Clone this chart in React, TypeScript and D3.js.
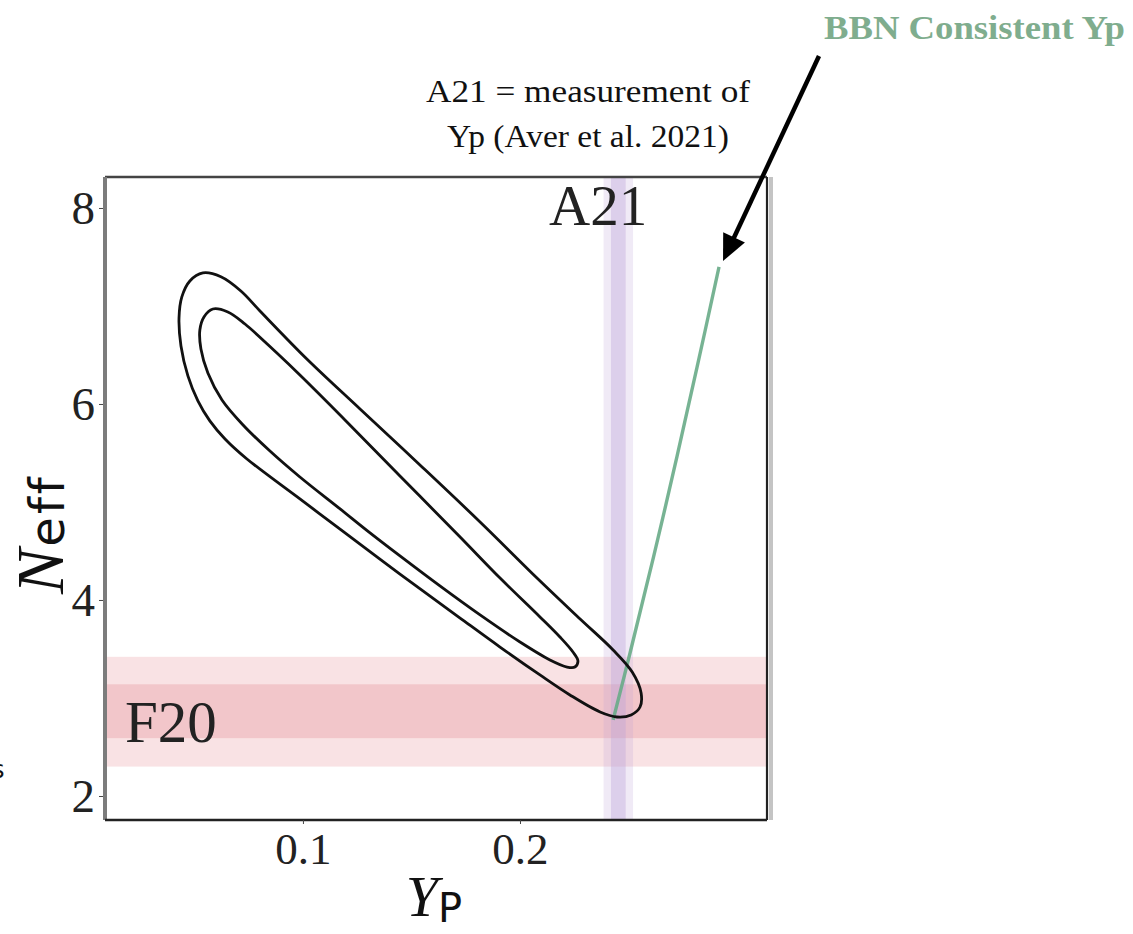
import React, { useEffect, useRef } from "react";
import * as d3 from "d3";

// axes
const ypDomain = [0.0088, 0.3138];
const neffDomain = [1.755, 8.316];
const ypTicks = [0.1, 0.2];
const neffTicks = [2, 4, 6, 8];

// F20 band on Neff (1 and 2 sigma)
const f20Inner = [2.59, 3.14];
const f20Outer = [2.3, 3.42];
// A21 band on Yp = 0.2453 +- 0.0034
const a21Inner = [0.2419, 0.2487];
const a21Outer = [0.2385, 0.2521];

// 2 sigma contour [Yp, Neff]
const outerContour: [number, number][] = [
  [0.0539, 7.337], [0.0622, 7.298], [0.0714, 7.153], [0.0802, 6.949],
  [0.1018, 6.459], [0.1263, 5.949], [0.1539, 5.378], [0.1816, 4.796],
  [0.2083, 4.214], [0.2277, 3.806], [0.2429, 3.49], [0.2517, 3.265],
  [0.2558, 3.051], [0.2553, 2.908], [0.2512, 2.827], [0.2447, 2.806],
  [0.2369, 2.857], [0.223, 3.031], [0.2092, 3.235], [0.1908, 3.520],
  [0.1724, 3.816], [0.1447, 4.265], [0.1171, 4.724], [0.0986, 5.031],
  [0.0742, 5.439], [0.0641, 5.643], [0.0571, 5.827], [0.0516, 6.031],
  [0.047, 6.286], [0.0438, 6.592], [0.0429, 6.878], [0.0442, 7.092],
  [0.0479, 7.255],
];

// 1 sigma contour [Yp, Neff]
const innerContour: [number, number][] = [
  [0.0585, 6.969], [0.0654, 6.939], [0.0733, 6.816], [0.088, 6.520],
  [0.0986, 6.296], [0.1171, 5.888], [0.1447, 5.265], [0.1724, 4.643],
  [0.1908, 4.224], [0.2092, 3.827], [0.2184, 3.622], [0.2244, 3.469],
  [0.2267, 3.378], [0.2253, 3.316], [0.2217, 3.316], [0.2138, 3.388],
  [0.2, 3.571], [0.1816, 3.847], [0.1631, 4.143], [0.1447, 4.449],
  [0.1309, 4.684], [0.1171, 4.929], [0.0986, 5.255], [0.0848, 5.520],
  [0.0724, 5.786], [0.0627, 6.041], [0.0562, 6.316], [0.053, 6.561],
  [0.0525, 6.755], [0.0544, 6.888],
];

// BBN consistent Yp(Neff)
const bbnLine: [number, number][] = [
  [0.2429, 2.776], [0.2507, 3.459], [0.2659, 4.847], [0.2816, 6.378], [0.2917, 7.398],
];

const serif = "Liberation Serif";

export default function App() {
  const xAxisRef = useRef<SVGGElement>(null);
  const yAxisRef = useRef<SVGGElement>(null);

  const left = 105, right = 767, top = 177, bottom = 820;
  const x = d3.scaleLinear().domain(ypDomain).range([left, right]);
  const y = d3.scaleLinear().domain(neffDomain).range([bottom, top]);

  useEffect(() => {
    const gx = d3.select(xAxisRef.current);
    gx.call(d3.axisBottom(x).tickValues(ypTicks).tickSize(4).tickPadding(8).tickFormat(d3.format(".1f")));
    gx.select(".domain").remove();
    gx.selectAll("line").attr("stroke", "#444");
    gx.selectAll("text").attr("font-size", 45).attr("font-family", serif).attr("fill", "#222");

    const gy = d3.select(yAxisRef.current);
    gy.call(d3.axisLeft(y).tickValues(neffTicks).tickSize(4).tickPadding(4).tickFormat(d3.format("d")));
    gy.select(".domain").remove();
    gy.selectAll("line").attr("stroke", "#444");
    gy.selectAll("text").attr("font-size", 47).attr("font-family", serif).attr("fill", "#222");
  }, []);

  const contour = d3
    .line<[number, number]>()
    .x((d) => x(d[0]))
    .y((d) => y(d[1]))
    .curve(d3.curveCatmullRomClosed.alpha(0.5));

  const bbn = d3
    .line<[number, number]>()
    .x((d) => x(d[0]))
    .y((d) => y(d[1]))
    .curve(d3.curveCatmullRom);

  // arrow pointing at the top of the BBN line
  const bbnTop = bbnLine[bbnLine.length - 1];
  const tipX = x(bbnTop[0]) + 4;
  const tipY = y(bbnTop[1]) - 6;
  const startX = 819, startY = 56;
  const len = Math.hypot(tipX - startX, tipY - startY);
  const ux = (tipX - startX) / len, uy = (tipY - startY) / len;
  const headLen = 26, headHalf = 12;
  const baseX = tipX - ux * headLen, baseY = tipY - uy * headLen;
  const head = [
    [tipX, tipY],
    [baseX - uy * headHalf, baseY + ux * headHalf],
    [baseX + uy * headHalf, baseY - ux * headHalf],
  ];

  return (
    <svg
      width={1133}
      height={934}
      style={{ position: "absolute", left: 0, top: 0, background: "#fff" }}
    >
      <rect x={0} y={0} width={1133} height={934} fill="#fff" />

      {/* F20 band */}
      <rect x={left} width={right - left} y={y(f20Outer[1])} height={y(f20Outer[0]) - y(f20Outer[1])} fill="#f9e2e4" />
      <rect x={left} width={right - left} y={y(f20Inner[1])} height={y(f20Inner[0]) - y(f20Inner[1])} fill="#f2c6ca" />

      {/* A21 band */}
      <rect x={x(a21Outer[0])} width={x(a21Outer[1]) - x(a21Outer[0])} y={top} height={bottom - top} fill="#b9a0d8" opacity={0.22} />
      <rect x={x(a21Inner[0])} width={x(a21Inner[1]) - x(a21Inner[0])} y={top} height={bottom - top} fill="#b9a0d8" opacity={0.36} />

      {/* BBN line */}
      <path d={bbn(bbnLine) || ""} fill="none" stroke="#68ab87" strokeWidth={3.4} opacity={0.9} />

      {/* contours */}
      <path d={contour(outerContour) || ""} fill="none" stroke="#111" strokeWidth={2.8} />
      <path d={contour(innerContour) || ""} fill="none" stroke="#111" strokeWidth={2.8} />

      {/* frame */}
      <line x1={left} x2={right} y1={top} y2={top} stroke="#444" strokeWidth={2.5} />
      <line x1={right + 4} x2={right + 4} y1={top} y2={bottom} stroke="#c4c4c4" strokeWidth={4} />
      <line x1={right} x2={right} y1={top} y2={bottom} stroke="#222" strokeWidth={2.2} />
      <line x1={left} x2={left} y1={top} y2={bottom} stroke="#7c7c7c" strokeWidth={4} />
      <line x1={left} x2={right} y1={bottom} y2={bottom} stroke="#222" strokeWidth={2.5} />

      <g ref={xAxisRef} transform={`translate(0,${bottom})`} />
      <g ref={yAxisRef} transform={`translate(${left - 2},0)`} />

      {/* band labels */}
      <text x={549} y={225} fontFamily={serif} fontSize={57} fill="#222">A21</text>
      <text x={125} y={742} fontFamily={serif} fontSize={59} fill="#222">F20</text>

      {/* axis labels */}
      <text x={434} y={916} textAnchor="middle" fill="#111">
        <tspan fontFamily={serif} fontStyle="italic" fontSize={58}>Y</tspan>
        <tspan fontFamily="DejaVu Sans" fontSize={40} dy={6}>P</tspan>
      </text>
      <text transform="translate(63,594) rotate(-90)" fill="#111">
        <tspan fontFamily={serif} fontStyle="italic" fontSize={68}>N</tspan>
        <tspan fontFamily="DejaVu Sans" fontSize={48} dy={1} dx={2} letterSpacing={3}>eff</tspan>
      </text>

      {/* annotations */}
      <text x={426} y={102} fontFamily={serif} fontSize={32} fill="#111" textLength={324} lengthAdjust="spacingAndGlyphs">
        A21 = measurement of
      </text>
      <text x={447} y={147} fontFamily={serif} fontSize={32} fill="#111" textLength={282} lengthAdjust="spacingAndGlyphs">
        Yp (Aver et al. 2021)
      </text>
      <text x={824} y={39} fontFamily={serif} fontWeight="bold" fontSize={34} fill="#7fad8e" textLength={301} lengthAdjust="spacingAndGlyphs">
        BBN Consistent Yp
      </text>
      <text x={-8} y={778} fontFamily="DejaVu Sans" fontSize={24} fill="#111">s</text>

      {/* arrow */}
      <line x1={startX} y1={startY} x2={baseX + ux * 2} y2={baseY + uy * 2} stroke="#000" strokeWidth={4.5} />
      <polygon points={head.map((p) => p.join(",")).join(" ")} fill="#000" />
    </svg>
  );
}
